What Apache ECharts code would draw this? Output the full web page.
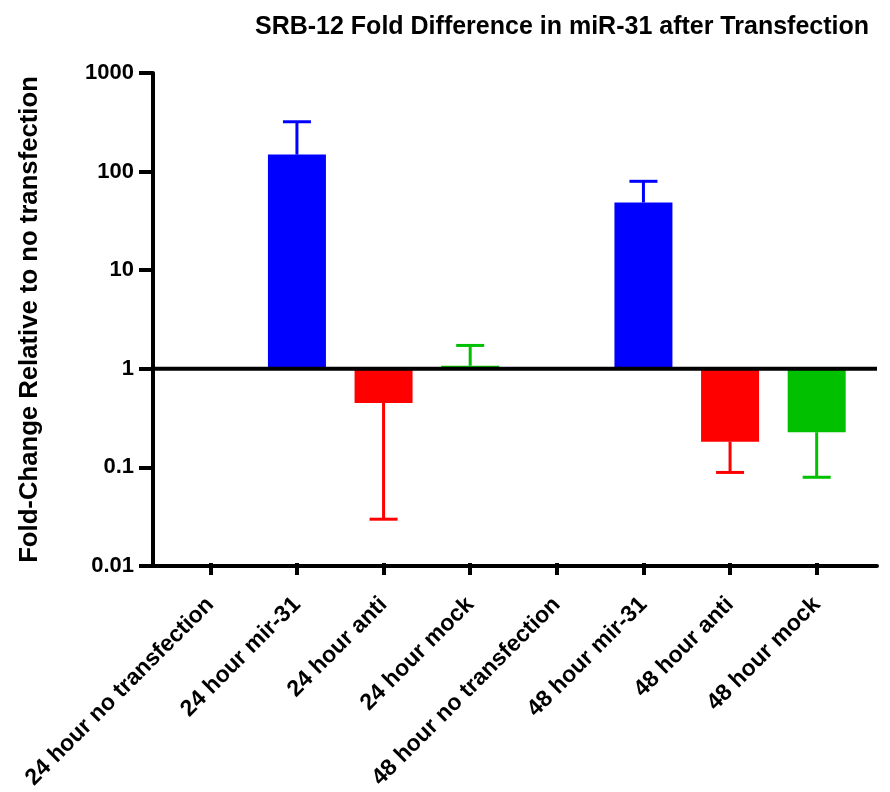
<!DOCTYPE html>
<html>
<head>
<meta charset="utf-8">
<script src="https://cdn.jsdelivr.net/npm/echarts@6/dist/echarts.min.js"></script>
<style>
  html, body { margin: 0; padding: 0; background: #fff; }
  #chart { width: 890px; height: 792px; }
</style>
</head>
<body>
<div id="chart"></div>
<script>
// Groups on the x axis
const categories = [
  '24 hour no transfection', '24 hour mir-31', '24 hour anti', '24 hour mock',
  '48 hour no transfection', '48 hour mir-31', '48 hour anti', '48 hour mock'
];
// Mean fold change relative to no transfection
const foldChange = [1, 147, 0.43, 1.03, 1, 47.7, 0.173, 0.216];
// End of the error whisker (above the bar when up-regulated, below when down)
const errorEnd = [null, 318, 0.028, 1.66, null, 78.5, 0.084, 0.075];
const barColors = ['#0000ff', '#0000ff', '#ff0000', '#00c000', '#0000ff', '#0000ff', '#ff0000', '#00c000'];
const yTickLabels = ['0.01', '0.1', '1', '10', '100', '1000'];
const baselineValue = 1;

const FONT = '"Liberation Sans", Arial, sans-serif';
const chart = echarts.init(document.getElementById('chart'), null, { renderer: 'canvas' });

const logAxis = {
  type: 'log', logBase: 10, min: 0.01, max: 1000
};

chart.setOption({
  animation: false,
  backgroundColor: '#ffffff',
  title: {
    text: 'SRB-12 Fold Difference in miR-31 after Transfection',
    left: 557, top: 10, textAlign: 'center',
    textStyle: { fontFamily: FONT, fontWeight: 'bold', fontSize: 25, color: '#000' }
  },
  grid: [
    { left: 153, right: 13, top: 73, bottom: 226 },
    { left: 167, right: 30, top: 73, bottom: 226 }
  ],
  xAxis: [
    {
      gridIndex: 0, type: 'value', min: 0, max: 1,
      axisLine: { show: true, lineStyle: { color: '#000', width: 4 } },
      axisTick: { show: false }, axisLabel: { show: false }, splitLine: { show: false }
    },
    {
      gridIndex: 1, type: 'category', data: categories,
      axisLine: { show: false },
      axisTick: { show: true, alignWithLabel: true, length: 12, lineStyle: { color: '#000', width: 4 } },
      axisLabel: {
        rotate: 45, margin: 38, interval: 0,
        fontFamily: FONT, fontWeight: 'bold', fontSize: 23, color: '#000'
      },
      splitLine: { show: false }
    }
  ],
  yAxis: [
    Object.assign({}, logAxis, {
      gridIndex: 0,
      name: 'Fold-Change Relative to no transfection',
      nameLocation: 'middle', nameGap: 110,
      nameTextStyle: { fontFamily: FONT, fontWeight: 'bold', fontSize: 25.7, color: '#000' },
      axisLine: { show: true, lineStyle: { color: '#000', width: 4 } },
      axisTick: { show: true, length: 14, lineStyle: { color: '#000', width: 4 } },
      axisLabel: {
        margin: 19, fontFamily: FONT, fontWeight: 'bold', fontSize: 22, color: '#000',
        formatter: (v, i) => yTickLabels[i]
      },
      splitLine: { show: false }, minorTick: { show: false }
    }),
    Object.assign({}, logAxis, {
      gridIndex: 1, show: false, splitLine: { show: false }
    })
  ],
  series: [
    {
      // horizontal reference line at fold change = 1
      type: 'line', xAxisIndex: 0, yAxisIndex: 0,
      data: [[0, baselineValue], [1, baselineValue]],
      symbol: 'none', silent: true, z: 5,
      lineStyle: { color: '#000', width: 4 }
    },
    {
      type: 'bar', xAxisIndex: 1, yAxisIndex: 1,
      barWidth: 58,
      data: foldChange.map((v, i) => ({ value: v, itemStyle: { color: barColors[i] } })),
      z: 2
    },
    {
      type: 'custom', xAxisIndex: 1, yAxisIndex: 1, z: 3,
      data: categories.map((c, i) => [i, foldChange[i], errorEnd[i]]).filter(d => d[2] != null),
      renderItem: function (params, api) {
        const idx = api.value(0);
        const p0 = api.coord([idx, api.value(1)]);
        const p1 = api.coord([idx, api.value(2)]);
        const color = barColors[idx];
        const half = 14;
        const style = { stroke: color, lineWidth: 3 };
        return {
          type: 'group',
          children: [
            { type: 'line', shape: { x1: p0[0], y1: p0[1], x2: p1[0], y2: p1[1] }, style: style },
            { type: 'line', shape: { x1: p1[0] - half, y1: p1[1], x2: p1[0] + half, y2: p1[1] }, style: style }
          ]
        };
      }
    }
  ]
});
</script>
</body>
</html>
